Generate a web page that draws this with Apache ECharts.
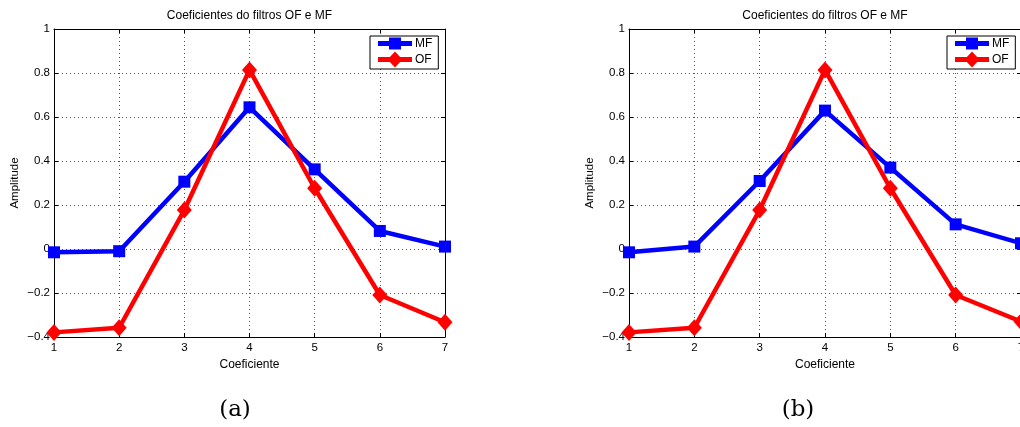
<!DOCTYPE html>
<html>
<head>
<meta charset="utf-8">
<script src="https://cdn.jsdelivr.net/npm/echarts@6/dist/echarts.min.js"></script>
<style>
html,body{margin:0;padding:0;background:#fff;}
#main{width:1020px;height:427px;}
</style>
</head>
<body>
<div id="main"></div>
<script>
const categories = [1, 2, 3, 4, 5, 6, 7];
const mfA = [-0.015, -0.010, 0.306, 0.644, 0.362, 0.082, 0.011];
const ofA = [-0.379, -0.358, 0.177, 0.814, 0.276, -0.209, -0.333];
const mfB = [-0.015, 0.011, 0.309, 0.629, 0.370, 0.112, 0.026];
const ofB = [-0.379, -0.358, 0.177, 0.814, 0.276, -0.209, -0.330];
const chartTitle = 'Coeficientes do filtros OF e MF';
const xLabel = 'Coeficiente';
const yLabel = 'Amplitude';
const captions = ['(a)', '(b)'];

const FONT = '"Liberation Sans", Arial, sans-serif';
const SERIF = '"DejaVu Serif", "Liberation Serif", serif';
const pair = (ys) => categories.map((x, i) => [x, ys[i]]);

const grids = [
  {left: 54, top: 29, width: 391, height: 308},
  {left: 629, top: 29, width: 392, height: 308}
];

const tickStyle = {show: true, inside: true, length: 4, lineStyle: {color: '#000', width: 1}};
const gridLine = {show: true, lineStyle: {color: '#555', type: [1, 3], width: 1}};

// legend glyphs: thick line with the series marker on it
const ICON_MF = 'path://M0,5.5L34,5.5L34,10.5L0,10.5Z M11,2L23,2L23,14L11,14Z';
const ICON_OF = 'path://M0,5.5L34,5.5L34,10.5L0,10.5Z M17,0L24.5,8L17,16L9.5,8Z';

function xAxisFor(i) {
  return {
    gridIndex: i, type: 'value', min: 1, max: 7, interval: 1, position: 'bottom',
    name: xLabel, nameLocation: 'middle', nameGap: 20,
    nameTextStyle: {fontFamily: FONT, fontSize: 12, color: '#000'},
    axisLine: {show: true, onZero: false, lineStyle: {color: '#000', width: 1}},
    axisTick: tickStyle,
    axisLabel: {fontFamily: FONT, fontSize: 11.5, color: '#000', margin: 5},
    splitLine: gridLine
  };
}
function xAxisTopFor(i) {
  return {
    gridIndex: i, type: 'value', min: 1, max: 7, interval: 1, position: 'top',
    axisLine: {show: true, onZero: false, lineStyle: {color: '#000', width: 1}},
    axisTick: tickStyle, axisLabel: {show: false}, splitLine: {show: false}
  };
}
function yAxisFor(i) {
  return {
    gridIndex: i, type: 'value', min: -0.4, max: 1, interval: 0.2, position: 'left',
    name: yLabel, nameLocation: 'middle', nameGap: 33,
    nameTextStyle: {fontFamily: FONT, fontSize: 11.5, color: '#000'},
    axisLine: {show: true, onZero: false, lineStyle: {color: '#000', width: 1}},
    axisTick: tickStyle,
    axisLabel: {fontFamily: FONT, fontSize: 11.5, color: '#000', margin: 4,
      formatter: v => { const r = Math.round(v * 10) / 10; return r < 0 ? '\u2212' + String(-r) : String(r); }},
    splitLine: gridLine
  };
}
function yAxisRightFor(i) {
  return {
    gridIndex: i, type: 'value', min: -0.4, max: 1, interval: 0.2, position: 'right',
    axisLine: {show: true, onZero: false, lineStyle: {color: '#000', width: 1}},
    axisTick: tickStyle, axisLabel: {show: false}, splitLine: {show: false}
  };
}
function seriesFor(i, name, ys, color, symbol, size) {
  return {
    name: name, type: 'line', xAxisIndex: i * 2, yAxisIndex: i * 2,
    data: pair(ys), symbol: symbol, symbolSize: size, clip: false,
    lineStyle: {color: color, width: 4.5}, itemStyle: {color: color},
    emphasis: {disabled: true}, animation: false, z: name === 'OF' ? 3 : 2
  };
}
function legendFor(left) {
  return {
    data: [{name: 'MF', icon: ICON_MF}, {name: 'OF', icon: ICON_OF}],
    orient: 'vertical', left: left, top: 36,
    itemWidth: 34, itemHeight: 16, itemGap: 2, padding: [1.5, 6, 1.5, 8],
    backgroundColor: '#fff', borderColor: '#000', borderWidth: 1, borderRadius: 0,
    textStyle: {fontFamily: FONT, fontSize: 12, color: '#000', padding: [0, 0, 0, -2]},
    selectedMode: false
  };
}

const chart = echarts.init(document.getElementById('main'), null, {renderer: 'canvas'});
chart.setOption({
  animation: false,
  backgroundColor: '#fff',
  title: [
    {text: chartTitle, left: 249.5, top: 10, padding: 0, textAlign: 'center',
     textStyle: {fontFamily: FONT, fontSize: 12, fontWeight: 'normal', color: '#000'}},
    {text: chartTitle, left: 825, top: 10, padding: 0, textAlign: 'center',
     textStyle: {fontFamily: FONT, fontSize: 12, fontWeight: 'normal', color: '#000'}},
    {text: captions[0], left: 235, top: 399, padding: 0, textAlign: 'center',
     textStyle: {fontFamily: SERIF, fontSize: 23, fontWeight: 'normal', color: '#000'}},
    {text: captions[1], left: 798, top: 399, padding: 0, textAlign: 'center',
     textStyle: {fontFamily: SERIF, fontSize: 23, fontWeight: 'normal', color: '#000'}}
  ],
  grid: grids.map(g => Object.assign({show: false, outerBoundsMode: 'none', containLabel: false}, g)),
  legend: [legendFor(370), legendFor(947)],
  xAxis: [xAxisFor(0), xAxisTopFor(0), xAxisFor(1), xAxisTopFor(1)],
  yAxis: [yAxisFor(0), yAxisRightFor(0), yAxisFor(1), yAxisRightFor(1)],
  series: [
    seriesFor(0, 'MF', mfA, '#0000ff', 'rect', 12),
    seriesFor(0, 'OF', ofA, '#ff0000', 'diamond', [15, 17]),
    seriesFor(1, 'MF', mfB, '#0000ff', 'rect', 12),
    seriesFor(1, 'OF', ofB, '#ff0000', 'diamond', [15, 17])
  ]
});
</script>
</body>
</html>
